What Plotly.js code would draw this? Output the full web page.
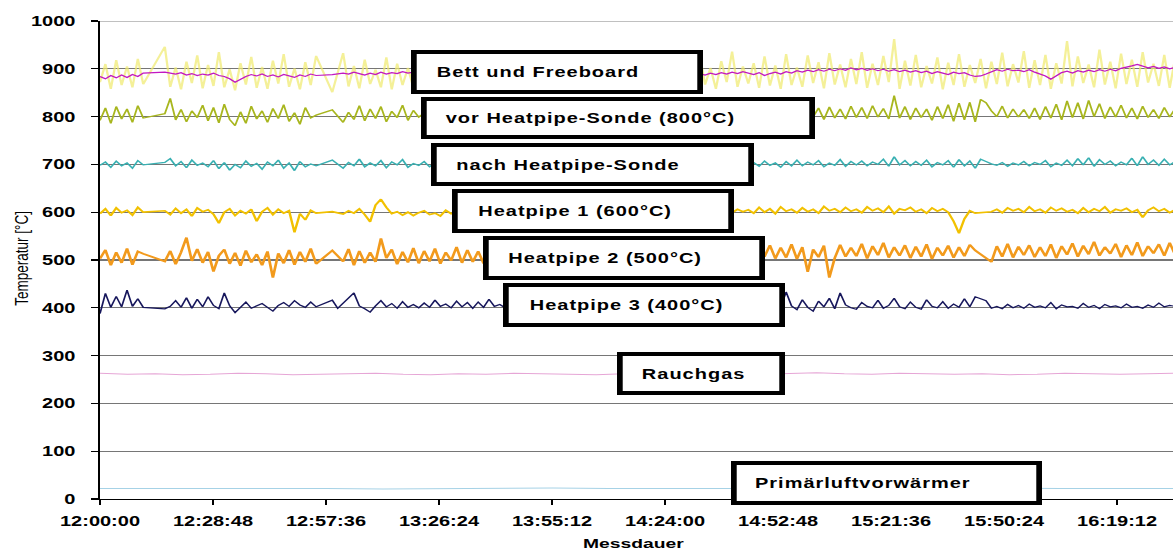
<!DOCTYPE html>
<html>
<head>
<meta charset="utf-8">
<script src="https://cdn.plot.ly/plotly-3.0.1.min.js"></script>
<style>
  html, body { margin: 0; padding: 0; background: #fff; overflow: hidden; }
  #stage { width: 1173px; height: 558px; overflow: hidden; }
  /* the chart is laid out narrow and widened to the page */
  #chart { width: 821px; height: 558px; transform: scaleX(1.42875); transform-origin: 0 0; }
  #chart .annotation-text { letter-spacing: 0.7px; }
  #chart .annotation[data-index="0"] .annotation-text,
  #chart .annotation[data-index="1"] .annotation-text { letter-spacing: 0; }
</style>
</head>
<body>
<div id="stage"><div id="chart"></div></div>
<script>
// Temperaturverlauf der Messstellen, Messbeginn 12:00:00, gleichmäßig abgetastet
const seriesNames = ['Bett', 'Freeboard', 'vor Heatpipe-Sonde (800°C)', 'nach Heatpipe-Sonde',
  'Heatpipe 1 (600°C)', 'Heatpipe 2 (500°C)', 'Heatpipe 3 (400°C)', 'Rauchgas', 'Primärluftvorwärmer'];

const bett = [
  872, 910, 858, 918, 866, 905, 861, 921, 868, null,
  null, null, 946, 862, 903, 857, 915, 870, 928, 859,
  908, 864, 935, 861, 899, 855, 912, 867, 925, 860,
  904, 858, 917, 869, 931, 862, 901, 857, 914, 866,
  927, null, null, 851, null, 933, 863, 906, 859, 919,
  868, 898, 861, 924, 857, 911, 866, 902, 860, 916,
  869, 929, 863, 905, 858, 917, 871, 900, 862, 922,
  866, 909, 859, 926, 870, 903, 861, 915, 867, 931,
  862, 906, 858, 919, 869, 901, 864, 927, 860, 912,
  868, 904, 857, 921, 865, 910, 861, 933, 869, 900,
  863, 918, 858, 907, 871, 925, 860, 903, 866, 914,
  861, 929, 867, 902, 858, 916, 872, 936, 862, 905,
  869, 912, 860, 926, 865, 907, 858, 931, 866, 903,
  862, 928, 870, 914, 859, 933, 867, 909, 861, 921,
  868, 935, 860, 911, 866, 927, 872, 962, 858, 917,
  865, 929, 861, 906, 869, 924, 857, 913, 866, 931,
  862, 908, 870, 921, 859, 915, 868, 934, 863, 910,
  871, 937, 860, 918, 866, 929, 858, 912, 869, 958,
  863, 926, 870, 909, 861, 940, 867, 915, 859, 932,
  868, 919, 862, 935, 871, 911, 864, 929, 860, 921
];

const freeboard = [
  884, 879, 886, 881, 887, 882, 888, 884, 891, null,
  null, null, 893, 891, 889, 892, 887, 890, 886, 889,
  887, 891, 886, 884, 879, 872, 878, 884, 888, 885,
  889, 884, 887, 883, 888, 885, 882, 887, 884, 889,
  886, null, null, 888, null, 891, 889, 893, 890, 887,
  891, 888, 893, 889, 892, 890, 894, 891, 893, 890,
  892, 889, 893, 890, 894, 891, 893, 889, 892, 894,
  891, 894, 890, 893, 889, 892, 895, 891, 893, 890,
  893, 896, 892, 894, 890, 893, 896, 892, 895, 891,
  894, 891, 895, 892, 896, 893, 890, 894, 891, 895,
  892, 896, 893, 890, 894, 892, 895, 891, 894, 890,
  893, 890, 887, 891, 888, 892, 889, 893, 890, 894,
  891, 888, 892, 886, 890, 893, 889, 894, 891, 896,
  893, 897, 894, 898, 895, 899, 896, 900, 897, 902,
  898, 901, 897, 900, 896, 899, 895, 898, 894, 897,
  893, 896, 892, 895, 890, 894, 891, 888, 893, 890,
  892, 887, 884, 885, 889, 894, 898, 895, 899, 896,
  897, 894, 898, 893, 889, 885, 878, 886, 892, 895,
  891, 896, 893, 897, 894, 898, 895, 899, 896, 901,
  903, 906, 909, 905, 902, 905, 901, 904, 900, 903
];

const vorSonde = [
  792, 818, 786, 821, 795, 816, 788, 823, 797, null,
  null, null, 806, 838, 793, 815, 789, 812, 798, 824,
  791, 819, 787, 826, 794, 781, 810, 786, 822, 795,
  812, 788, 817, 796, 825, 790, 808, 784, 819, 797,
  803, null, null, 814, null, 788, 809, 794, 823, 791,
  816, 796, 821, 789, 811, 798, 824, 792, 813, 799,
  807, 820, 794, 815, 790, 818, 799, 811, 793, 822,
  796, 813, 789, 817, 801, 824, 792, 810, 797, 819,
  791, 815, 803, 821, 795, 812, 788, 818, 799, 825,
  794, 816, 790, 809, 802, 823, 796, 814, 789, 820,
  798, 811, 793, 826, 797, 815, 790, 819, 801, 813,
  795, 822, 791, 812, 799, 817, 788, 824, 796, 810,
  792, 818, 797, 814, 790, 821, 799, 812, 794, 819,
  796, 815, 799, 818, 794, 820, 797, 816, 795, 822,
  798, 819, 796, 823, 799, 817, 795, 844, 797, 821,
  794, 818, 798, 816, 792, 821, 796, 825, 790, 828,
  793, 830, 789, 836, 829, 812, 800, 822, 797, 816,
  799, 815, 796, 818, 794, 821, 797, 826, 793, 833,
  798, 829, 795, 834, 800, 827, 796, 820, 799, 824,
  797, 818, 795, 822, 798, 815, 796, 819, 799, 817
];

const nachSonde = [
  698, 705, 694, 707, 697, 703, 692, 708, 699, null,
  null, null, 704, 712, 697, 706, 693, 709, 698, 703,
  695, 708, 691, 704, 688, 700, 693, 707, 696, 702,
  690, 705, 697, 709, 692, 703, 687, 706, 695, 701,
  697, null, null, 709, null, 692, 704, 697, 711, 695,
  703, 697, 708, 693, 705, 699, 710, 694, 702, 698,
  706, 695, 703, 698, 709, 693, 704, 700, 707, 696,
  702, 708, 694, 705, 699, 710, 695, 703, 697, 706,
  693, 704, 700, 709, 696, 702, 694, 707, 698, 705,
  701, 695, 708, 697, 704, 692, 706, 699, 703, 696,
  709, 694, 702, 698, 705, 693, 707, 700, 696, 704,
  697, 706, 693, 703, 699, 708, 695, 702, 698, 705,
  699, 704, 696, 707, 698, 703, 694, 706, 697, 709,
  697, 705, 699, 708, 695, 703, 698, 710, 696, 706,
  699, 707, 697, 705, 700, 711, 696, 716, 699, 708,
  697, 706, 698, 709, 695, 704, 699, 708, 694, 710,
  697, 707, 692, 711, 706, 701, 698, 704, 696, 703,
  699, 706, 697, 704, 700, 708, 695, 703, 698, 709,
  697, 712, 699, 714, 696, 710, 700, 707, 697, 705,
  699, 713, 697, 716, 700, 709, 698, 711, 699, 706
];

const heatpipe1 = [
  597, 607, 593, 609, 599, 604, 594, 610, 600, null,
  null, null, 603, 595, 608, 598, 606, 592, 609, 601,
  605, 596, 577, 600, 607, 593, 603, 597, 606, 581,
  601, 609, 595, 606, 598, 603, 558, 597, 584, 604,
  598, null, null, 601, null, 596, 603, 598, 607, 595,
  580, 615, 627, 610, 597, 601, 594, 600, 593, 599,
  603, 595, 598, 592, 604, 597, 601, 594, 606, 598,
  602, 595, 607, 599, 604, 593, 600, 596, 605, 598,
  601, 594, 606, 597, 603, 599, 608, 595, 602, 597,
  604, 596, 600, 593, 607, 598, 603, 595, 601, 606,
  597, 603, 594, 608, 599, 605, 596, 602, 598, 607,
  600, 595, 604, 598, 609, 596, 603, 599, 606, 601,
  605, 598, 610, 600, 607, 597, 611, 602, 606, 599,
  609, 601, 606, 598, 612, 603, 607, 600, 610, 602,
  606, 599, 611, 603, 608, 600, 612, 597, 607, 604,
  610, 601, 606, 598, 609, 602, 607, 600, 581, 556,
  586, 603, 598, null, null, 601, 606, 599, 609, 603,
  607, 600, 611, 602, 606, 599, 610, 603, 608, 601,
  605, 598, 609, 600, 607, 602, 611, 599, 606, 603,
  608, 600, 605, 589, 604, 610, 602, 607, 599, 605
];

const heatpipe2 = [
  503, 521, 489, 516, 494, 524, 490, 518, 513, null,
  null, null, 497, 519, 491, 516, 547, 498, 523, 494,
  517, 476, 509, 522, 492, 515, 488, 520, 495, 512,
  489, 518, 463, 514, 493, 521, 490, 517, 496, 524,
  492, null, null, 520, null, 497, 523, 489, 519, 494,
  516, 496, 545, 504, 522, 491, 517, 495, 525, 493,
  519, 497, 524, 492, 516, 499, 527, 494, 521, 496,
  518, 493, 526, 498, 520, 491, 523, 497, 515, 500,
  524, 495, 519, 490, 527, 498, 517, 494, 522, 499,
  516, 493, 525, 497, 520, 492, 528, 496, 518, 501,
  523, 495, 519, 498, 526, 493, 521, 497, 517, 502,
  525, 496, 520, 499, 527, 494, 522, 500, 518, 504,
  528, 501, 524, 507, 531, 503, 526, 505, 533, 502,
  527, 475, 522, 506, 530, 463, 504, 532, 507, 526,
  508, 534, 503, 529, 510, 536, 505, 527, 509, 531,
  504, 528, 507, 533, 502, 526, 509, 530, 505, 527,
  508, 532, 520, null, null, 496, 529, 507, 534, 505,
  528, 510, 531, 506, 527, 508, 533, 504, 529, 511,
  535, 507, 530, 512, 538, 509, 527, 513, 534, 506,
  531, 510, 537, 508, 529, 514, 533, 509, 536, 511
];

const heatpipe3 = [
  388, 430, 401, 424, 402, 437, 403, 419, 401, null,
  null, null, 398, 403, 415, 401, 421, 399, 418, 402,
  423, 405, 398, 431, 404, 390, 402, 412, 399, 404,
  409, 401, 393, 405, 411, 403, 415, 406, 401, 412,
  402, null, null, 416, 399, null, null, 431, 404, 398,
  391, 404, 415, 402, 409, 399, 413, 401, 407, 400,
  410, 401, 416, 403, 408, 400, 414, 402, 411, 399,
  412, 401, 418, 403, 407, 400, 415, 402, 409, 401,
  417, 402, 406, 399, 413, 401, 419, 403, 408, 400,
  414, 402, 410, 399, 420, 404, 407, 401, 416, 403,
  409, 400, 418, 402, 412, 399, 415, 403, 408, 401,
  413, 400, 419, 402, 407, 399, 416, 401, 410, 402,
  401, 398, 403, 400, 405, 399, 402, 433, 404, 396,
  417, 401, 393, 414, 402, 420, 398, 431, 406, 400,
  397, 411, 403, 400, 416, 399, 405, 420, 402, 398,
  412, 401, 397, 417, 403, 400, 413, 399, 408, 401,
  419, 402, 423, null, 415, 399, 403, 398, 407, 400,
  405, 399, 408, 401, 404, 400, 411, 398, 406, 402,
  403, 399, 409, 401, 405, 398, 407, 402, 404, 400,
  408, 401, 403, 399, 406, 401, 410, 402, 405, 403
];

const rauchgas = [
  263, 261, 262, 260, 261, 263, 262, 260, 261, 262,
  263, 261, 260, 262, 261, 263, 262, 261, 260, 262,
  261, 263, 262, 260, 261, 262, 264, 262, 261, 263,
  262, 261, 262, 260, 261, 263, 262, 261, 262, 263
];

const primaerluft = [
  22, 22, 23, 22, 22, 21, 22, 22, 23, 22,
  22, 22, 21, 22, 22, 23, 22, 22, 22, 22
];

// Achsen
const yTicks = [0, 100, 200, 300, 400, 500, 600, 700, 800, 900, 1000];
const tickStepSeconds = 1728;          // 28:48 zwischen zwei Beschriftungen
const recordSeconds = 16440;           // Dauer der Aufzeichnung
const axisEndSeconds = 16408;          // rechter Rand des Diagramms

const lineColors = ['rgba(240,234,112,0.72)', '#c218c0', '#a8b61e', '#38b0b2',
  '#f2c100', '#f29a1c', '#17175c', '#e6a6d6', '#a6d2e6'];
const lineWidths = [1.6, 1.2, 1.3, 1.3, 1.7, 1.9, 1.2, 1, 1];

function stamp(sec) {
  const d = new Date(Date.UTC(2000, 0, 1, 12, 0, 0) + sec * 1000);
  return d.toISOString().replace('T', ' ').replace('Z', '');
}
function timeline(n) {
  const out = [];
  for (let i = 0; i < n; i++) out.push(stamp(i * recordSeconds / (n - 1)));
  return out;
}

const allSeries = [bett, freeboard, vorSonde, nachSonde, heatpipe1, heatpipe2, heatpipe3, rauchgas, primaerluft];
const traces = allSeries.map((vals, k) => ({
  type: 'scatter', mode: 'lines', name: seriesNames[k],
  x: timeline(vals.length), y: vals, connectgaps: true,
  line: { color: lineColors[k], width: lineWidths[k] },
  hoverinfo: 'skip'
}));

// Rahmen der Beschriftungen (Seitenpixel) und Mitte des Textes
const SCALE = 1.42875, ML = 70, PW = 751, PB = 499, PH = 478;
const labelBoxes = [
  { text: 'Bett und Freeboard',          x0: 411, x1: 703,  y0: 50,  y1: 94,  tx: 538 },
  { text: 'vor Heatpipe-Sonde (800°C)',  x0: 421, x1: 815,  y0: 97,  y1: 139, tx: 591 },
  { text: 'nach Heatpipe-Sonde',         x0: 431, x1: 754,  y0: 143, y1: 186, tx: 568 },
  { text: 'Heatpipe 1 (600°C)',          x0: 452, x1: 734,  y0: 189, y1: 233, tx: 575 },
  { text: 'Heatpipe 2 (500°C)',          x0: 483, x1: 765,  y0: 236, y1: 280, tx: 605 },
  { text: 'Heatpipe 3 (400°C)',          x0: 503, x1: 785,  y0: 283, y1: 327, tx: 627 },
  { text: 'Rauchgas',                    x0: 617, x1: 785,  y0: 352, y1: 395, tx: 694 },
  { text: 'Primärluftvorwärmer',         x0: 731, x1: 1042, y0: 461, y1: 505, tx: 863 }
];
const px = X => (X / SCALE - ML) / PW;
const py = Y => (PB - Y) / PH;
const BW = 4;

const shapes = [
  // oberer Rahmen bei 1000 in hellerem Grau
  { type: 'line', xref: 'paper', yref: 'y', x0: 0, x1: 1, y0: 1000, y1: 1000, layer: 'below',
    line: { color: '#ababab', width: 1.4 } }
].concat(labelBoxes.map(b => ({
  type: 'rect', xref: 'paper', yref: 'paper', layer: 'above',
  x0: (b.x0 / SCALE + BW / 2 - ML) / PW, x1: (b.x1 / SCALE - BW / 2 - ML) / PW,
  y0: py(b.y1 - BW / 2), y1: py(b.y0 + BW / 2),
  line: { color: '#000', width: BW }, fillcolor: '#fff'
})));

const boldFont = { family: 'Liberation Sans, Arial, sans-serif', size: 14, color: '#000', weight: 'bold' };

const annotations = [
  { text: 'Temperatur [°C]', xref: 'paper', yref: 'paper', x: px(21), y: py(258),
    xanchor: 'center', yanchor: 'middle', textangle: -90, showarrow: false,
    font: { family: 'Liberation Sans, Arial, sans-serif', size: 13.5, color: '#000' } },
  { text: 'Messdauer', xref: 'paper', yref: 'paper', x: px(634), y: py(543),
    xanchor: 'center', yanchor: 'middle', showarrow: false,
    font: { family: 'Liberation Sans, Arial, sans-serif', size: 13.5, color: '#000', weight: 'bold' } }
].concat(labelBoxes.map(b => ({
  text: b.text, xref: 'paper', yref: 'paper', x: px(b.tx), y: py((b.y0 + b.y1) / 2),
  xanchor: 'center', yanchor: 'middle', showarrow: false,
  font: { family: 'Liberation Sans, Arial, sans-serif', size: 14, color: '#000', weight: 'bold' }
})));

const layout = {
  width: 821, height: 558,
  margin: { l: ML, r: 0, t: 21, b: 59, pad: 0 },
  paper_bgcolor: '#fff', plot_bgcolor: '#fff',
  showlegend: false,
  xaxis: {
    type: 'date', range: [stamp(0), stamp(axisEndSeconds)],
    tick0: stamp(0), dtick: tickStepSeconds * 1000, tickformat: '%H:%M:%S',
    showgrid: false, zeroline: false,
    showline: true, linecolor: '#000', linewidth: 1.4,
    ticks: 'outside', ticklen: 5, tickwidth: 1.2, tickcolor: '#000',
    tickfont: boldFont, automargin: false, ticklabelstandoff: 4
  },
  yaxis: {
    range: [0, 1000], tickvals: yTicks, ticktext: yTicks.map(String),
    showgrid: true, gridcolor: '#767676', gridwidth: 1.3,
    zeroline: false, showline: true, linecolor: '#000', linewidth: 1.4,
    ticks: 'outside', ticklen: 5, tickwidth: 1.2, tickcolor: '#000',
    tickfont: boldFont, automargin: false, ticklabelstandoff: 8
  },
  shapes: shapes,
  annotations: annotations
};

Plotly.newPlot('chart', traces, layout, { staticPlot: true, displayModeBar: false });
</script>
</body>
</html>
